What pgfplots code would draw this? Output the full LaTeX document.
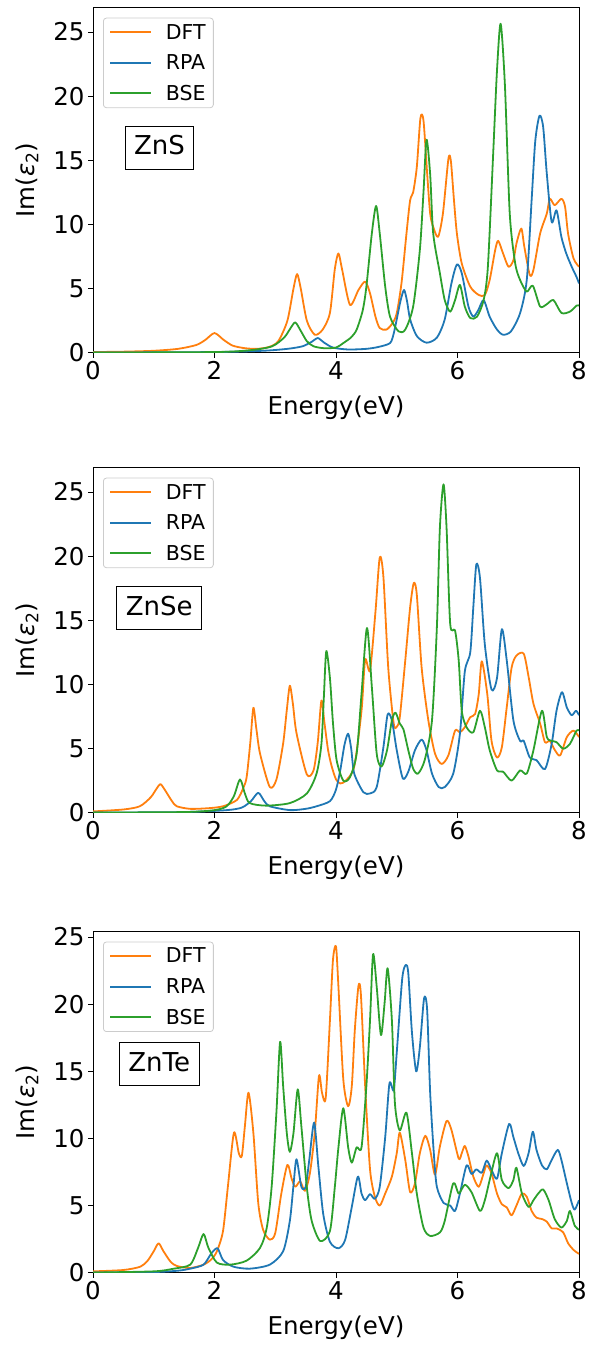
\documentclass[border=0pt]{standalone}
\usepackage{pgfplots}
\pgfplotsset{compat=1.18}
\usepackage{fontspec}
\setmainfont{DejaVu Sans}

\definecolor{cdft}{HTML}{FF7F0E}
\definecolor{crpa}{HTML}{1F77B4}
\definecolor{cbse}{HTML}{2CA02C}

\tikzset{
  mat/.style={draw=black, line width=0.9pt, fill=white, font=\fontsize{26}{30}\selectfont,
    inner xsep=9pt, inner ysep=10pt, text height=19pt, text depth=4pt, anchor=center},
}

\pgfplotsset{
  panel/.style={
    scale only axis, width=486pt, height=345pt,
    xmin=0, xmax=8, ymin=0, ymax=26.9,
    xtick={0,2,...,8}, ytick={0,5,...,25},
    tick align=outside, xtick pos=bottom, ytick pos=left,
    major tick length=5pt,
    every tick/.style={black, line width=0.9pt},
    axis line style={line width=0.9pt},
    tick label style={font=\fontsize{24.5}{28}\selectfont},
    /pgf/number format/assume math mode=true,
    label style={font=\fontsize{24.5}{28}\selectfont},
    xlabel={Energy(eV)},
    ylabel={Im(\textit{ε}\textsubscript{2})},
    xlabel style={at={(axis description cs:0.5,-0.16)}, anchor=center},
    ylabel style={at={(axis description cs:-0.136,0.5)}, anchor=center},
    legend cell align=left,
    legend style={at={(axis description cs:0.0206,0.971)}, anchor=north west,
      draw=black!20, line width=0.8pt, rounded corners=3pt, fill=white,
      font=\fontsize{20.5}{24}\selectfont, inner xsep=5.7pt, inner ysep=4pt,
      row sep=10pt, nodes={inner sep=2pt},
      /tikz/every odd column/.append style={column sep=12pt}},
    legend image code/.code={\draw[#1] (0pt,0pt) -- (41pt,0pt);},
    every axis plot/.append style={line width=1.8pt, line join=round, smooth, tension=0.45},
  },
}

\begin{document}
\begin{tikzpicture}

% ---------------- ZnS ----------------
\begin{axis}[panel, at={(93pt,994.3pt)}, anchor=south west]
\addplot[cdft] coordinates {
(0,0.05) (0.5,0.08) (1.0,0.15) (1.4,0.3) (1.7,0.6) (1.85,1.0) (2.0,1.53) (2.15,1.0) (2.3,0.55)
(2.5,0.35) (2.7,0.3) (2.9,0.45) (3.05,0.9) (3.2,2.5) (3.3,5.0) (3.36,6.13) (3.42,5.0) (3.52,2.5)
(3.65,1.4) (3.78,1.8) (3.9,3.1) (3.98,6.5) (4.04,7.74) (4.1,6.5) (4.23,3.73) (4.37,4.89) (4.48,5.54)
(4.56,4.63) (4.65,2.8) (4.72,1.92) (4.83,1.8) (4.93,2.3) (5.0,3.08) (5.08,5.5) (5.16,9.29) (5.22,11.88)
(5.27,12.5) (5.33,14.47) (5.39,18.3) (5.44,18.1) (5.5,14.0) (5.55,10.85) (5.6,9.81) (5.68,9.03)
(5.76,10.85) (5.85,15.1) (5.89,14.98) (5.94,12.0) (5.99,9.29) (6.07,6.96) (6.21,5.15) (6.35,4.5)
(6.45,4.5) (6.53,5.67) (6.62,8.0) (6.67,8.72) (6.75,7.74) (6.84,6.7) (6.92,7.2) (6.97,8.5) (7.05,9.68)
(7.1,8.26) (7.19,6.06) (7.25,6.46) (7.36,9.29) (7.47,10.85) (7.52,12.0) (7.6,11.5) (7.71,12.0)
(7.77,11.4) (7.82,9.29) (7.91,7.35) (8.0,6.7)
};
\addlegendentry{DFT}
\addplot[crpa] coordinates {
(0,0.01) (2.0,0.05) (2.8,0.15) (3.2,0.3) (3.45,0.5) (3.6,0.85) (3.7,1.14) (3.8,0.8) (3.95,0.4)
(4.2,0.25) (4.5,0.3) (4.7,0.45) (4.89,0.75) (4.95,1.5) (5.0,2.6) (5.06,4.0) (5.12,4.89) (5.17,4.0)
(5.22,2.6) (5.33,1.3) (5.49,0.78) (5.66,1.17) (5.79,2.6) (5.9,5.4) (5.99,6.88) (6.07,6.2) (6.18,3.6)
(6.26,2.82) (6.34,3.3) (6.43,4.1) (6.53,2.8) (6.65,1.8) (6.75,1.4) (6.88,1.66) (7.03,3.08) (7.14,5.67)
(7.22,11.88) (7.28,16.5) (7.35,18.48) (7.41,17.6) (7.47,13.95) (7.55,10.2) (7.63,11.1) (7.71,9.03)
(7.79,7.74) (7.88,6.7) (7.96,5.9) (8.0,5.4)
};
\addlegendentry{RPA}
\addplot[cbse] coordinates {
(0,0.01) (2.0,0.05) (2.6,0.2) (2.95,0.5) (3.15,1.2) (3.25,1.9) (3.33,2.36) (3.42,1.7) (3.52,0.9)
(3.63,0.5) (3.8,0.35) (4.0,0.4) (4.12,0.75) (4.25,1.2) (4.34,1.8) (4.44,3.3) (4.5,5.15) (4.59,9.3)
(4.66,11.44) (4.72,9.3) (4.81,5.15) (4.89,2.8) (5.03,1.66) (5.14,1.8) (5.27,3.6) (5.38,8.0) (5.44,12.5)
(5.49,16.6) (5.55,13.9) (5.6,9.3) (5.71,6.2) (5.79,4.1) (5.88,3.2) (5.96,4.1) (6.04,5.28) (6.12,3.6)
(6.21,2.7) (6.32,2.8) (6.43,4.1) (6.5,6.7) (6.59,15.8) (6.65,22.0) (6.71,25.65) (6.78,20.9) (6.86,10.85)
(6.95,6.96) (7.03,5.67) (7.14,4.76) (7.24,5.22) (7.36,3.6) (7.47,3.78) (7.58,4.1) (7.71,3.1) (7.85,3.2)
(7.96,3.67) (8.0,3.67)
};
\addlegendentry{BSE}
\node[mat] at (axis cs:1.095,16.0) {ZnS};
\end{axis}

% ---------------- ZnSe ----------------
\begin{axis}[panel, at={(93pt,534.3pt)}, anchor=south west]
\addplot[cdft] coordinates {
(0,0.1) (0.5,0.25) (0.77,0.5) (0.95,1.2) (1.05,1.9) (1.11,2.23) (1.18,1.8) (1.3,0.9) (1.38,0.5)
(1.6,0.3) (1.9,0.35) (2.14,0.5) (2.37,1.0) (2.48,2.0) (2.53,2.8) (2.59,5.5) (2.64,8.18) (2.69,6.5)
(2.75,4.6) (2.91,2.0) (3.02,2.6) (3.13,5.4) (3.19,8.0) (3.24,9.9) (3.29,8.5) (3.35,6.2) (3.52,2.98)
(3.63,3.3) (3.7,5.5) (3.76,8.75) (3.81,7.0) (3.87,4.87) (3.93,3.6) (4.0,2.6) (4.07,2.28) (4.16,2.5)
(4.3,3.6) (4.42,7.95) (4.48,11.93) (4.56,11.1) (4.65,15.7) (4.72,19.9) (4.78,18.4) (4.86,11.3)
(4.95,6.95) (5.0,6.7) (5.05,7.45) (5.14,11.86) (5.22,16.0) (5.28,17.9) (5.33,17.0) (5.41,11.3)
(5.52,7.2) (5.63,4.6) (5.74,3.8) (5.85,4.47) (5.96,6.4) (6.04,6.27) (6.12,6.66) (6.21,7.45)
(6.29,7.7) (6.35,9.25) (6.4,11.8) (6.49,9.25) (6.56,5.6) (6.65,4.3) (6.73,5.1) (6.81,8.2) (6.89,11.3)
(6.97,12.25) (7.09,12.4) (7.17,10.6) (7.25,8.5) (7.36,6.95) (7.44,5.5) (7.52,5.6) (7.6,4.9)
(7.69,4.47) (7.8,5.9) (7.91,6.4) (8.0,5.9)
};
\addlegendentry{DFT}
\addplot[crpa] coordinates {
(0,0.01) (1.5,0.05) (2.2,0.2) (2.45,0.4) (2.6,0.9) (2.72,1.55) (2.82,0.9) (2.91,0.5) (3.24,0.2)
(3.5,0.3) (3.68,0.5) (3.9,0.9) (4.0,1.8) (4.07,3.3) (4.14,5.3) (4.2,6.16) (4.25,5.0) (4.3,3.05)
(4.45,1.6) (4.56,1.5) (4.67,2.0) (4.78,5.1) (4.85,7.66) (4.92,7.2) (5.0,4.87) (5.1,2.67) (5.19,3.2)
(5.3,4.87) (5.41,5.7) (5.49,4.87) (5.58,3.05) (5.69,2.0) (5.79,2.0) (5.93,3.05) (6.04,6.16)
(6.12,11.0) (6.21,12.5) (6.26,16.0) (6.31,19.36) (6.37,18.3) (6.45,13.1) (6.56,9.6) (6.65,10.5)
(6.73,14.3) (6.81,11.9) (6.92,7.2) (7.03,5.6) (7.09,5.6) (7.19,4.3) (7.3,4.1) (7.44,3.4) (7.55,5.36)
(7.63,7.95) (7.72,9.4) (7.8,8.2) (7.88,7.6) (7.95,7.95) (8.0,7.6)
};
\addlegendentry{RPA}
\addplot[cbse] coordinates {
(0,0.01) (1.5,0.05) (2.0,0.2) (2.2,0.5) (2.32,1.3) (2.42,2.59) (2.5,1.5) (2.58,0.75) (2.85,0.55)
(3.24,0.75) (3.52,1.5) (3.68,3.05) (3.76,5.36) (3.8,9.0) (3.84,12.6) (3.9,10.5) (3.95,7.0) (4.01,4.1)
(4.12,2.5) (4.23,2.77) (4.34,4.6) (4.42,9.25) (4.51,14.4) (4.59,9.8) (4.67,4.6) (4.75,3.6) (4.84,4.87)
(4.92,7.2) (4.98,7.8) (5.05,6.95) (5.11,6.5) (5.19,4.87) (5.27,3.44) (5.35,3.05) (5.46,4.1) (5.58,7.2)
(5.66,14.4) (5.71,22.2) (5.77,25.6) (5.82,22.2) (5.88,14.7) (5.96,14.2) (6.02,11.86) (6.07,7.95)
(6.15,6.66) (6.26,6.27) (6.37,7.95) (6.45,6.66) (6.53,4.87) (6.65,3.3) (6.75,3.2) (6.89,2.5)
(7.03,3.3) (7.14,3.05) (7.25,4.87) (7.39,7.95) (7.47,5.9) (7.55,5.6) (7.63,5.5) (7.74,4.99)
(7.85,5.36) (7.96,6.4) (8.0,6.4)
};
\addlegendentry{BSE}
\node[mat] at (axis cs:1.09,15.97) {ZnSe};
\end{axis}

% ---------------- ZnTe ----------------
\begin{axis}[panel, at={(93pt,74.3pt)}, anchor=south west, height=341pt, ymax=25.4]
\addplot[cdft] coordinates {
(0,0.1) (0.5,0.2) (0.78,0.45) (0.9,0.9) (1.0,1.6) (1.08,2.19) (1.16,1.6) (1.28,0.8) (1.38,0.5)
(1.6,0.35) (1.82,0.6) (1.95,1.0) (2.04,1.6) (2.14,3.1) (2.22,6.4) (2.32,10.43) (2.4,8.9) (2.45,8.7)
(2.5,10.9) (2.56,13.41) (2.64,10.4) (2.72,5.2) (2.8,3.2) (2.91,2.46) (3.0,2.95) (3.1,5.9) (3.2,8.03)
(3.27,7.0) (3.33,6.4) (3.41,6.8) (3.49,6.1) (3.57,7.4) (3.65,10.4) (3.72,14.66) (3.77,13.4)
(3.83,13.0) (3.9,18.8) (3.95,23.3) (4.0,24.3) (4.04,21.3) (4.12,14.4) (4.2,12.4) (4.26,13.9)
(4.31,18.1) (4.37,21.36) (4.41,20.7) (4.48,13.9) (4.56,7.7) (4.64,5.66) (4.72,5.0) (4.81,5.9)
(4.92,7.16) (5.0,8.9) (5.05,10.43) (5.14,8.4) (5.22,6.0) (5.3,6.66) (5.38,8.9) (5.47,10.2) (5.55,9.15)
(5.63,7.3) (5.71,9.4) (5.82,11.3) (5.9,10.64) (6.02,8.5) (6.07,8.9) (6.12,9.44) (6.18,8.66) (6.26,7.16)
(6.35,6.4) (6.43,7.4) (6.48,8.0) (6.56,7.4) (6.65,5.9) (6.73,5.1) (6.81,4.87) (6.89,4.27) (6.97,5.0)
(7.06,5.9) (7.14,5.66) (7.22,4.6) (7.3,4.1) (7.39,4.0) (7.47,3.8) (7.55,3.3) (7.63,3.3) (7.74,3.0)
(7.82,2.2) (7.91,1.7) (8.0,1.4)
};
\addlegendentry{DFT}
\addplot[crpa] coordinates {
(0,0.01) (1.0,0.05) (1.4,0.15) (1.6,0.3) (1.82,0.6) (1.95,1.45) (2.05,1.82) (2.14,0.95) (2.31,0.45)
(2.58,0.3) (2.91,0.6) (3.13,1.6) (3.24,3.86) (3.3,6.5) (3.35,8.45) (3.43,6.4) (3.5,6.4) (3.56,8.4)
(3.64,11.18) (3.71,7.9) (3.79,4.36) (3.9,2.3) (4.04,1.82) (4.15,2.44) (4.26,4.9) (4.36,7.16) (4.42,5.9)
(4.48,5.4) (4.56,5.85) (4.64,5.5) (4.72,6.4) (4.81,10.1) (4.88,14.1) (4.95,13.6) (5.0,16.4) (5.09,21.9)
(5.15,22.93) (5.19,22.3) (5.25,17.9) (5.32,15.0) (5.38,16.8) (5.45,20.44) (5.5,19.6) (5.55,13.4)
(5.61,8.9) (5.66,6.4) (5.77,5.2) (5.88,5.0) (5.96,4.6) (6.04,5.9) (6.15,8.0) (6.23,7.35) (6.31,7.7)
(6.4,7.45) (6.48,8.35) (6.56,7.66) (6.65,7.0) (6.73,8.9) (6.85,11.08) (6.92,10.1) (7.0,8.9) (7.09,7.95)
(7.17,8.9) (7.24,10.5) (7.3,9.15) (7.39,8.0) (7.47,7.7) (7.55,8.4) (7.65,9.15) (7.71,8.4) (7.8,6.66)
(7.88,5.2) (7.93,4.7) (8.0,5.4)
};
\addlegendentry{RPA}
\addplot[cbse] coordinates {
(0,0.01) (1.0,0.1) (1.33,0.3) (1.6,0.6) (1.73,1.85) (1.82,2.88) (1.9,1.85) (2.04,0.75) (2.26,0.6)
(2.53,0.9) (2.75,1.85) (2.86,3.35) (2.94,6.36) (3.02,12.0) (3.08,17.2) (3.13,13.9) (3.19,10.4)
(3.24,9.0) (3.3,10.4) (3.37,13.66) (3.43,10.9) (3.52,6.36) (3.6,3.86) (3.74,2.36) (3.9,3.1) (3.98,6.36)
(4.04,9.34) (4.12,12.25) (4.2,9.34) (4.26,8.2) (4.34,9.34) (4.42,9.34) (4.5,13.9) (4.56,18.8)
(4.61,23.72) (4.67,21.3) (4.74,17.7) (4.8,20.1) (4.85,22.68) (4.92,18.8) (4.97,12.6) (5.05,10.6)
(5.16,11.92) (5.25,8.9) (5.33,5.9) (5.44,3.36) (5.55,2.74) (5.71,3.0) (5.79,3.86) (5.93,6.66)
(6.02,5.9) (6.12,6.55) (6.23,6.0) (6.37,4.6) (6.45,5.4) (6.54,7.1) (6.65,8.9) (6.73,6.9) (6.84,6.3)
(6.92,6.9) (6.97,7.82) (7.06,5.9) (7.17,4.9) (7.25,5.4) (7.33,5.9) (7.41,6.2) (7.5,5.4) (7.6,4.0)
(7.71,3.36) (7.8,3.86) (7.85,4.6) (7.93,3.5) (8.0,3.2)
};
\addlegendentry{BSE}
\node[mat] at (axis cs:1.09,15.57) {ZnTe};
\end{axis}

\pgfresetboundingbox
\path (0pt,0pt) rectangle (590pt,1347pt);
\end{tikzpicture}
\end{document}
